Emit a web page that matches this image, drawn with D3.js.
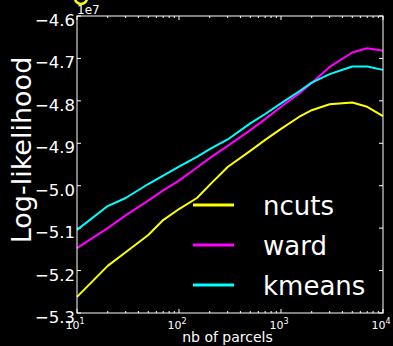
<!DOCTYPE html>
<html lang="en">
<head>
<meta charset="utf-8">
<title>Log-likelihood vs nb of parcels</title>
<style>
body { margin: 0; background: #000; }
svg { display: block; font-family: "DejaVu Sans", sans-serif; }
</style>
<script src="https://d3js.org/d3.v7.min.js"></script>
</head>
<body>
<div id="chart"></div>
<script>
// values are in units of 1e7
const parcels = [10, 20, 30, 50, 70, 100, 150, 200, 300, 500, 700, 1000, 1500, 2000, 3000, 5000, 7000, 10000];
const ncuts  = [-5.262, -5.189, -5.157, -5.116, -5.081, -5.055, -5.029, -4.998, -4.956, -4.918, -4.892, -4.866, -4.838, -4.822, -4.808, -4.804, -4.814, -4.836];
const ward   = [-5.147, -5.100, -5.070, -5.035, -5.011, -4.988, -4.957, -4.935, -4.906, -4.869, -4.843, -4.814, -4.783, -4.758, -4.720, -4.686, -4.676, -4.682];
const kmeans = [-5.104, -5.048, -5.029, -4.996, -4.976, -4.955, -4.932, -4.914, -4.891, -4.853, -4.831, -4.806, -4.778, -4.757, -4.737, -4.719, -4.719, -4.727];
const yTicks = [-5.3, -5.2, -5.1, -5.0, -4.9, -4.8, -4.7, -4.6];
const xMajor = [10, 100, 1000, 10000];

const series = [
  {name: "ncuts", values: ncuts, color: "#ffff00"},
  {name: "ward", values: ward, color: "#ff00ff"},
  {name: "kmeans", values: kmeans, color: "#00ffff"}
];

const width = 393, height = 346;
const pLeft = 77, pRight = 383, pTop = 16, pBottom = 313;

const svg = d3.select("#chart").append("svg")
  .attr("width", width)
  .attr("height", height)
  .style("background", "#000");

const x = d3.scaleLog().domain([10, 10000]).range([pLeft, pRight]);
const y = d3.scaleLinear().domain([-5.3, -4.6]).range([pBottom, pTop]);

// clipped yellow mark at the very top
svg.append("ellipse")
  .attr("cx", 81).attr("cy", -2).attr("rx", 6).attr("ry", 6)
  .attr("fill", "none").attr("stroke", "#ffff00").attr("stroke-width", 2.5);

const minor = x.ticks().filter(d => xMajor.indexOf(d) < 0);

// ticks, all pointing inside
function xTicks(yPos, dir) {
  svg.selectAll(null).data(minor).enter().append("line")
    .attr("x1", d => x(d)).attr("x2", d => x(d))
    .attr("y1", yPos).attr("y2", yPos + dir * 2)
    .attr("stroke", "#fff").attr("stroke-width", 1);
  svg.selectAll(null).data(xMajor).enter().append("line")
    .attr("x1", d => x(d)).attr("x2", d => x(d))
    .attr("y1", yPos).attr("y2", yPos + dir * 4)
    .attr("stroke", "#fff").attr("stroke-width", 1);
}
xTicks(pBottom, -1);
xTicks(pTop, 1);

function yTickLines(xPos, dir) {
  svg.selectAll(null).data(yTicks).enter().append("line")
    .attr("x1", xPos).attr("x2", xPos + dir * 4)
    .attr("y1", d => y(d)).attr("y2", d => y(d))
    .attr("stroke", "#fff").attr("stroke-width", 1);
}
yTickLines(pLeft, 1);
yTickLines(pRight, -1);

// y tick labels
svg.selectAll(null).data(yTicks).enter().append("text")
  .attr("x", pLeft - 2)
  .attr("y", d => y(d) + 10)
  .attr("text-anchor", "end")
  .attr("fill", "#fff")
  .attr("font-size", 16.5)
  .text(d => d3.format(".1f")(d));

svg.append("text")
  .attr("x", 77).attr("y", 14)
  .attr("fill", "#fff").attr("font-size", 12)
  .text("1e7");

// x tick labels 10^n
const xl = svg.selectAll(null).data(xMajor).enter().append("text")
  .attr("x", d => x(d) - 2)
  .attr("y", 329)
  .attr("text-anchor", "middle")
  .attr("fill", "#fff")
  .attr("font-size", 11);
xl.append("tspan").text("10");
xl.append("tspan").attr("dy", -5).attr("font-size", 8).text(d => Math.round(Math.log10(d)));

// lines
const line = d3.line()
  .x((d, i) => x(parcels[i]))
  .y(d => y(d));

svg.append("g").selectAll("path").data(series).enter().append("path")
  .attr("d", d => line(d.values))
  .attr("fill", "none")
  .attr("stroke", d => d.color)
  .attr("stroke-width", 2)
  .attr("stroke-linejoin", "round");

// frame
svg.append("rect")
  .attr("x", pLeft).attr("y", pTop)
  .attr("width", pRight - pLeft).attr("height", pBottom - pTop)
  .attr("fill", "none").attr("stroke", "#fff").attr("stroke-width", 1);

// legend
const lg = svg.append("g");
series.forEach((s, i) => {
  const ly = 205 + i * 40;
  lg.append("line")
    .attr("x1", 193).attr("x2", 234)
    .attr("y1", ly).attr("y2", ly)
    .attr("stroke", s.color).attr("stroke-width", 3);
  lg.append("text")
    .attr("x", 263).attr("y", ly + 9.5)
    .attr("fill", "#fff").attr("font-size", 26)
    .text(s.name);
});

// axis labels
svg.append("text")
  .attr("transform", "translate(31,150) rotate(-90)")
  .attr("text-anchor", "middle")
  .attr("fill", "#fff")
  .attr("font-size", 27)
  .text("Log-likelihood");

svg.append("text")
  .attr("x", 227.5).attr("y", 342)
  .attr("text-anchor", "middle")
  .attr("fill", "#fff")
  .attr("font-size", 14)
  .text("nb of parcels");
</script>
</body>
</html>
